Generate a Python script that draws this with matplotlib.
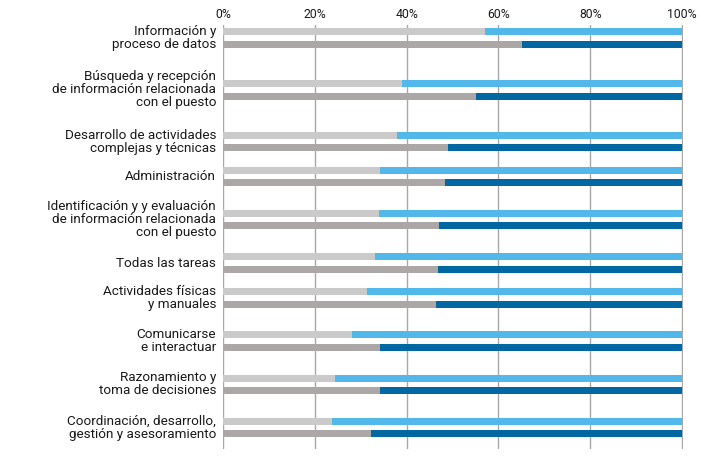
import matplotlib
matplotlib.use("Agg")
import matplotlib.pyplot as plt
import numpy as np

categories = [
    "Información y\nproceso de datos",
    "Búsqueda y recepción\nde información relacionada\ncon el puesto",
    "Desarrollo de actividades\ncomplejas y técnicas",
    "Administración",
    "Identificación y y evaluación\nde información relacionada\ncon el puesto",
    "Todas las tareas",
    "Actividades físicas\ny manuales",
    "Comunicarse\ne interactuar",
    "Razonamiento y\ntoma de decisiones",
    "Coordinación, desarrollo,\ngestión y asesoramiento",
]
# top bar (light) and bottom bar (dark): gray share, rest in blue
top_gray = [57.0, 38.9, 37.8, 34.2, 33.9, 33.2, 31.3, 28.0, 24.4, 23.8]
bottom_gray = [65.2, 55.2, 49.1, 48.4, 47.1, 46.9, 46.4, 34.3, 34.3, 32.3]
tick_values = [0, 20, 40, 60, 80, 100]
tick_labels = ["0%", "20%", "40%", "60%", "80%", "100%"]

W, H = 718, 462
fig = plt.figure(figsize=(W / 100, H / 100), dpi=100)
ax_top, ax_bot = 25, 449
ax = fig.add_axes([223 / W, 1 - ax_bot / H, (683 - 223) / W, (ax_bot - ax_top) / H])

# layout: group spacing depends on number of label lines
lines = [c.count("\n") + 1 for c in categories]
centers = [38.0]
for i in range(1, len(categories)):
    s = lines[i - 1] + lines[i]
    centers.append(centers[-1] + 8.5 * s + 9.3)
centers = np.array(centers)

c_lgray, c_dgray = "#cbcaca", "#aaa7a6"
c_lblue, c_dblue = "#52b8ea", "#0067a2"
bh = 7
off = 6.2
tg = np.array(top_gray)
bg = np.array(bottom_gray)
ax.barh(centers - off, tg, height=bh, color=c_lgray, zorder=3)
ax.barh(centers - off, 100 - tg, left=tg, height=bh, color=c_lblue, zorder=3)
ax.barh(centers + off, bg, height=bh, color=c_dgray, zorder=3)
ax.barh(centers + off, 100 - bg, left=bg, height=bh, color=c_dblue, zorder=3)

ax.set_ylim(ax_bot, ax_top)
for v in tick_values:
    ax.axvline(v, color="#a8a8a8", lw=1, zorder=1)
for s in ax.spines.values():
    s.set_visible(False)
ax.xaxis.tick_top()
ax.set_xticks(tick_values)
ax.set_xticklabels(tick_labels, fontsize=8.8, color="#1a1a1a", family="Roboto")
ax.tick_params(axis="x", length=0, pad=3)
ax.set_yticks([])
ax.set_xlim(0, 100.2)

for c, lab in zip(centers, categories):
    ax.text(-1.5, c, lab, ha="right", va="center", fontsize=9.7, family="Roboto",
            color="#1a1a1a", linespacing=1.0, multialignment="right")

fig.savefig("out.png", dpi=100)
